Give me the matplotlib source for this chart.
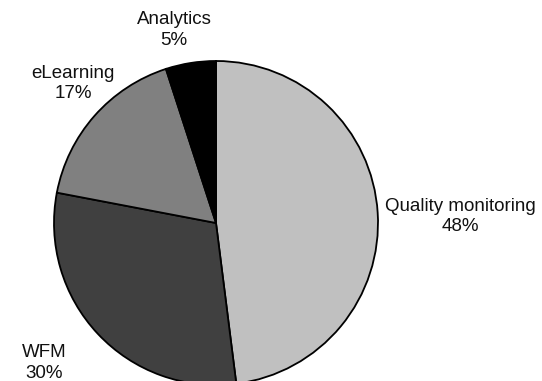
import matplotlib
matplotlib.use("Agg")
import matplotlib.pyplot as plt

labels = ["Quality monitoring", "WFM", "eLearning", "Analytics"]
shares = [48, 30, 17, 5]
colors = ["#C0C0C0", "#404040", "#808080", "#000000"]

# label centres (data units, pie radius = 1)
label_pos = [(1.506, 0.040), (-1.062, -0.862), (-0.883, 0.861), (-0.259, 1.190)]

plt.rcParams['font.family'] = ['Liberation Sans', 'DejaVu Sans']

fig = plt.figure(figsize=(5.42, 3.81), dpi=100)
ax = fig.add_axes([54/542, -4/381, 324/542, 324/381])

ax.pie(shares, colors=colors, startangle=90, counterclock=False,
       wedgeprops=dict(edgecolor="black", linewidth=1.3))
for lab, val, (x, y) in zip(labels, shares, label_pos):
    ax.text(x, y, "%s\n%d%%" % (lab, val), ha="center", va="center",
            fontsize=13.5, linespacing=1.3, color="#111111")

ax.set_xlim(-1, 1)
ax.set_ylim(-1, 1)
ax.set_aspect("equal")
ax.axis("off")

fig.savefig("out.png", dpi=100)
